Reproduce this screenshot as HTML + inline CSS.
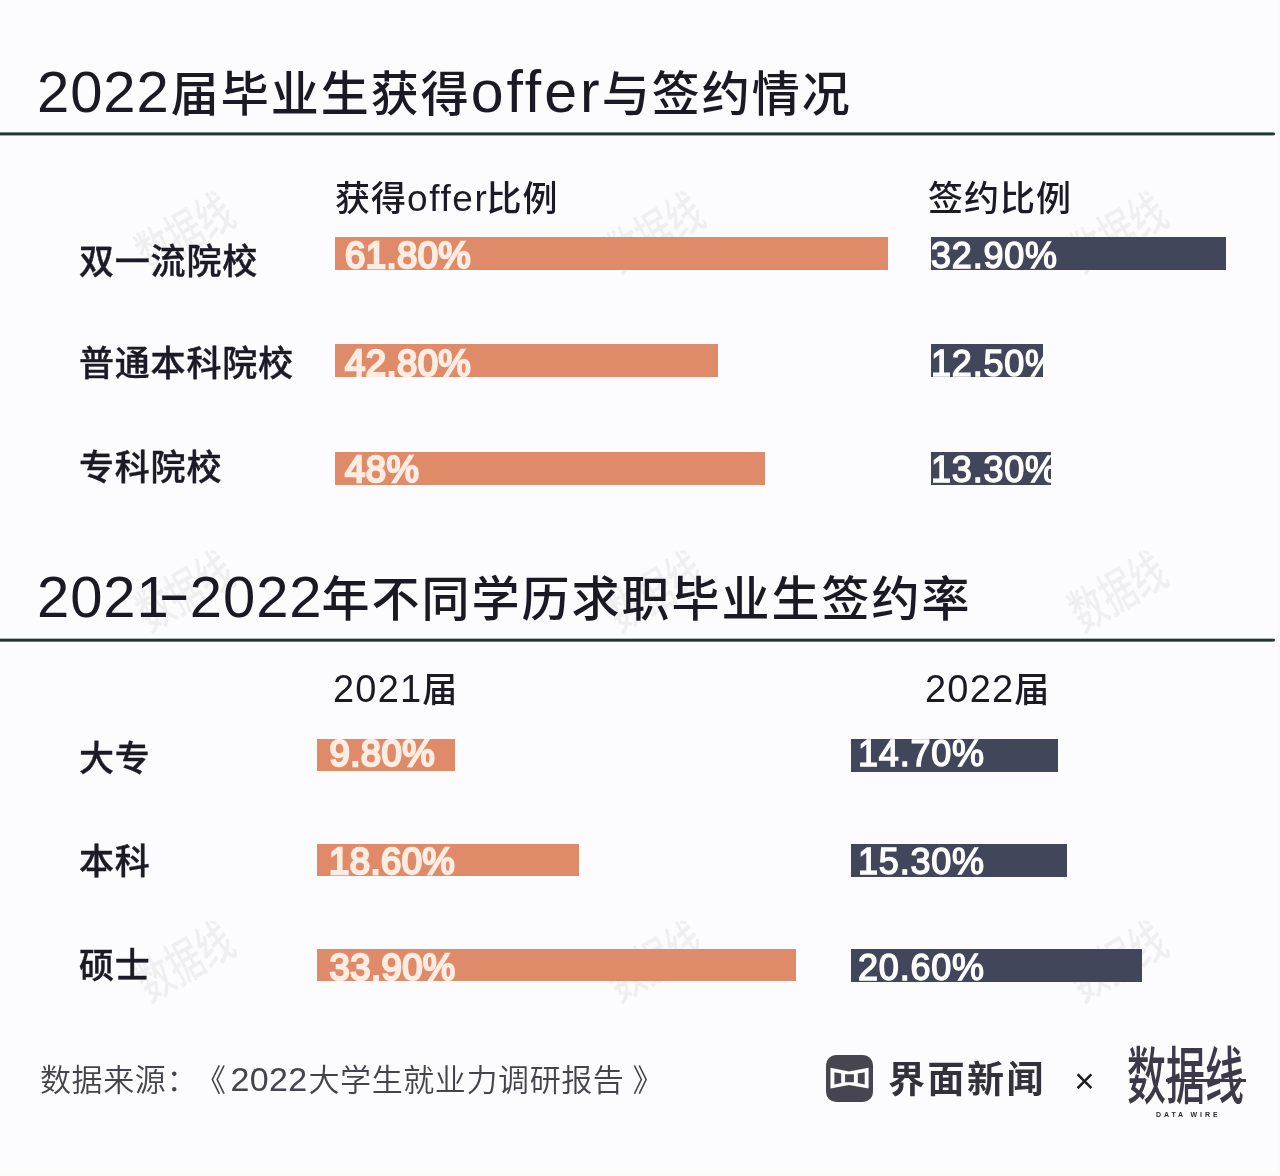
<!DOCTYPE html>
<html lang="zh-CN">
<head>
<meta charset="utf-8">
<title>2022届毕业生获得offer与签约情况</title>
<style>
*{box-sizing:border-box;margin:0;padding:0}
html,body{width:1280px;height:1176px;overflow:hidden;background:#fcfcfe}
body{position:relative;font-family:"Liberation Sans","Noto Sans CJK SC",sans-serif;color:#1c1a26}
.abs{position:absolute;white-space:nowrap}
/* titles */
.title{left:0;height:60px;line-height:60px;font-size:48px;font-weight:500;letter-spacing:2px;color:#1b1924}
.title span{display:inline-block;position:relative;vertical-align:baseline}
.title .n{font-size:58px;font-weight:400;letter-spacing:.9px}
.title .l{font-size:59px;font-weight:400;letter-spacing:3px}
.title .c{top:-1px}
.title .h{transform:scaleX(1.7);transform-origin:100% 50%;top:-4px;left:2px}
.rule{position:absolute;left:0;width:1275px;height:4px;border-radius:0 2px 2px 0}
/* column headers */
.colh{height:44px;line-height:44px;font-size:35px;font-weight:500;letter-spacing:1px}
.colh .l,.colh .n{font-weight:400}
.colh .n{font-size:38px;letter-spacing:1.2px}
.colh .l{font-size:37px;letter-spacing:1.6px}
/* row labels */
.rowl{left:79px;height:44px;line-height:44px;font-size:35px;font-weight:500;letter-spacing:.8px;-webkit-text-stroke:.4px #1c1a26}
/* bars */
.bar{position:absolute;height:33px;overflow:hidden}
.bar span{position:absolute;left:10px;top:0;height:40px;line-height:40px;font-size:35px;font-family:"Liberation Sans",sans-serif;white-space:nowrap;letter-spacing:1.5px}
.o{background:#df8b69}
.o span{color:#fdece1;font-weight:400;-webkit-text-stroke:2.3px #fdece1;font-size:36.5px;letter-spacing:.4px;margin-top:.6px}
.d{background:#41465a}
.d span{color:#fff;font-weight:400;-webkit-text-stroke:1.4px #fff;font-size:36px;letter-spacing:.8px;margin-top:.6px}
/* watermark */
.wm{position:absolute;width:110px;height:56px;line-height:56px;font-size:34px;font-weight:500;white-space:nowrap;text-align:center;color:#8a909c;opacity:.11;transform:rotate(-30deg) scaleY(1.45);pointer-events:none}
.edge{position:absolute;background:#fafaf8}
/* footer */
.src{left:40px;text-spacing-trim:space-all;height:40px;line-height:40px;font-size:31px;font-weight:350;letter-spacing:.6px;color:#45434d}
.src .n{font-size:34px;letter-spacing:.3px}
</style>
</head>
<body>
<div class="edge" style="left:1277px;top:0;width:3px;height:1176px"></div>
<div class="edge" style="left:0;top:1172px;width:1280px;height:4px"></div>
<div class="wm" style="left:130px;top:205px" aria-hidden="true">数据线</div>
<div class="wm" style="left:600px;top:205px" aria-hidden="true">数据线</div>
<div class="wm" style="left:1063px;top:205px" aria-hidden="true">数据线</div>
<div class="wm" style="left:130px;top:564px" aria-hidden="true">数据线</div>
<div class="wm" style="left:600px;top:564px" aria-hidden="true">数据线</div>
<div class="wm" style="left:1063px;top:564px" aria-hidden="true">数据线</div>
<div class="wm" style="left:130px;top:934px" aria-hidden="true">数据线</div>
<div class="wm" style="left:600px;top:934px" aria-hidden="true">数据线</div>
<div class="wm" style="left:1063px;top:934px" aria-hidden="true">数据线</div>
<h1 class="abs title" style="top:62px"><span class="n" style="margin-left:37px">2022</span><span class="c" style="margin-left:1px">届毕业生获得</span><span class="l">offer</span><span class="c" style="margin-left:-1px">与签约情况</span></h1>
<div class="rule" style="top:132px;background:linear-gradient(#22362f99 0 1px,#22362f 1px 3px,#22362f66 3px 4px)"></div>

<div class="abs colh" style="left:335px;top:177px">获得<span class="l">offer</span><span style="margin-left:-2px">比例</span></div>
<div class="abs colh" style="left:928px;top:177px">签约比例</div>

<div class="abs rowl" style="top:240px">双一流院校</div>
<div class="bar o" style="left:335px;top:237px;width:553px"><span style="left:10px;top:-1.9px">61.80%</span></div>
<div class="bar d" style="left:931px;top:237px;width:295px"><span style="left:0px;top:-1.9px">32.90%</span></div>

<div class="abs rowl" style="top:342px">普通本科院校</div>
<div class="bar o" style="left:335px;top:344px;width:383px"><span style="left:10px;top:-0.9px">42.80%</span></div>
<div class="bar d" style="left:931px;top:344px;width:112px"><span style="left:0px;top:-0.9px">12.50%</span></div>

<div class="abs rowl" style="top:446px">专科院校</div>
<div class="bar o" style="left:335px;top:452px;width:430px"><span style="left:10px;top:-2.4px">48%</span></div>
<div class="bar d" style="left:931px;top:452px;width:120px"><span style="left:0px;top:-2.4px">13.30%</span></div>

<h2 class="abs title" style="top:567px"><span class="n" style="margin-left:37px">2021</span><span class="n h">-</span><span class="n">2022</span><span class="c" style="margin-left:-1px">年不同学历求职毕业生签约率</span></h2>
<div class="rule" style="top:638px;background:linear-gradient(#22362f55 0 1px,#22362f 1px 3px,#22362faa 3px 4px)"></div>

<div class="abs colh" style="left:333px;top:667px"><span class="n">2021</span>届</div>
<div class="abs colh" style="left:925px;top:667px"><span class="n">2022</span>届</div>

<div class="abs rowl" style="top:737px">大专</div>
<div class="bar o" style="left:317px;top:739px;width:138px;height:32px"><span style="left:12.5px;top:-5.2px">9.80%</span></div>
<div class="bar d" style="left:851px;top:739px;width:207px"><span style="left:7px;top:-5.2px">14.70%</span></div>

<div class="abs rowl" style="top:840px">本科</div>
<div class="bar o" style="left:317px;top:844px;width:262px;height:32px"><span style="left:12px;top:-2.6px">18.60%</span></div>
<div class="bar d" style="left:851px;top:844px;width:216px"><span style="left:7px;top:-2.6px">15.30%</span></div>

<div class="abs rowl" style="top:944px">硕士</div>
<div class="bar o" style="left:317px;top:949px;width:479px;height:32px"><span style="left:12.5px;top:-1.4px">33.90%</span></div>
<div class="bar d" style="left:851px;top:949px;width:291px"><span style="left:7px;top:-1.4px">20.60%</span></div>

<div class="abs src" style="top:1059px">数据来源：<span style="margin-left:-3px">《</span><span class="n" style="margin-left:4px;margin-right:1px">2022</span>大学生就业力调研报告<span style="margin-left:8px">》</span></div>
<div class="logo" style="position:absolute;left:826px;top:1055px;width:47px;height:47px;border-radius:10px;background:#47454f">
<svg width="47" height="47" viewBox="0 0 47 47" style="display:block"><path fill="#fff" fill-rule="evenodd" d="M4.5 12.7 23 16.4 42.6 12.7V33.6L23 30 4.5 33.6ZM8.4 17.2 15.2 18.5V28.1L8.4 29.6ZM19.1 19.2H27.9V27.3H19.1ZM31.8 18.5 38.7 17.2V29.6L31.8 28.1Z"/></svg>
</div>
<div class="abs brand" style="left:888px;top:1058px;height:46px;line-height:46px;font-size:37px;font-weight:700;letter-spacing:2.5px;color:#33323c">界面新闻</div>
<div class="abs" style="left:1072px;top:1063px;width:25px;height:36px;line-height:36px;text-align:center;font-size:35px;color:#1c1a22">×</div>
<div class="abs dw" style="left:1127px;top:1046px;width:120px;height:64px;line-height:64px;font-size:39px;font-weight:500;color:#3d3948;transform:scaleY(1.6);transform-origin:50% 50%;letter-spacing:0">数据线</div>
<div style="position:absolute;left:1166px;top:1079px;width:80px;height:3px;background:#3d3948"></div>
<div class="abs" style="left:1156px;top:1109.5px;height:10px;line-height:10px;font-size:7px;font-weight:700;letter-spacing:2.9px;color:#2a2833">DATA WIRE</div>
</body>
</html>
